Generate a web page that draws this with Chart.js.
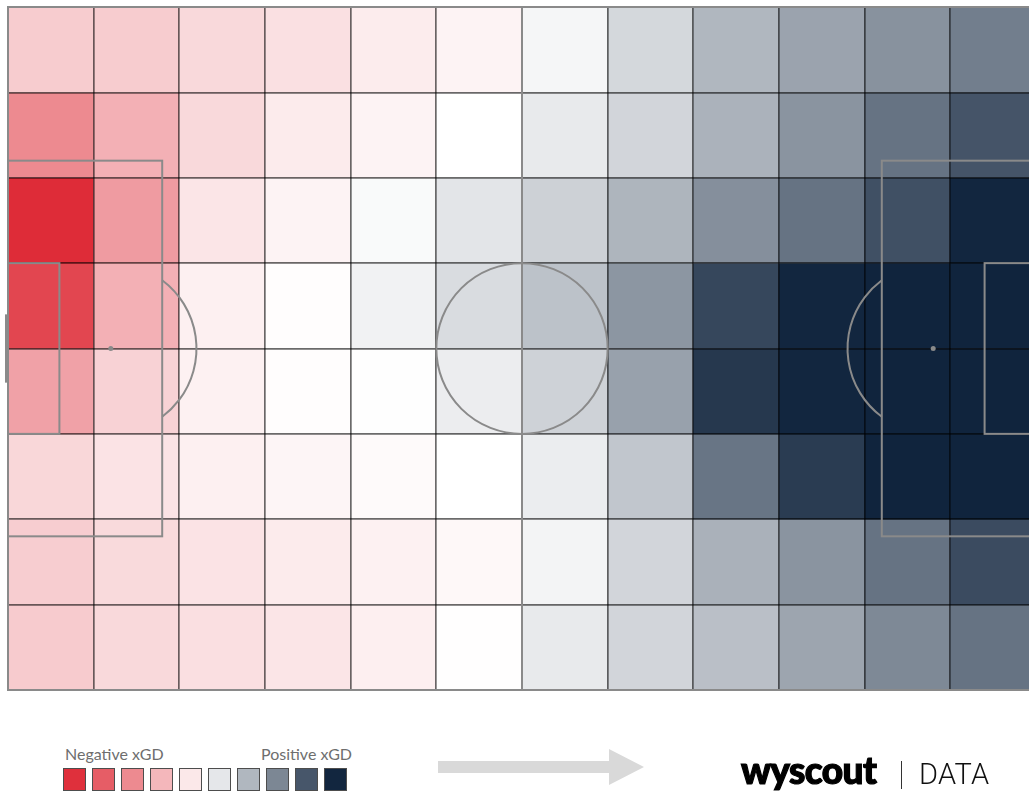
<!DOCTYPE html>
<html>
<head>
<meta charset="utf-8">
<script src="https://cdn.jsdelivr.net/npm/chart.js@4.4.1/dist/chart.umd.min.js"></script>
<style>
  html, body { margin: 0; padding: 0; background: #ffffff; overflow: hidden; }
  #page { position: relative; width: 1029px; height: 792px; overflow: hidden; background: #fff; }
  #chartBox { position: absolute; left: 0; top: 0; width: 1044px; height: 700px; }
  .lbl { position: absolute; font-family: Lato, "Open Sans", sans-serif; font-size: 16px; color: #6e6e6e; line-height: 1; white-space: nowrap; }
  .sw { position: absolute; box-sizing: border-box; width: 23px; height: 23px; border: 1.5px solid #4d4d4d; }
  #brand { position: absolute; left: 741px; top: 751px; font-family: Lato, sans-serif; font-weight: 900; font-size: 37px; letter-spacing: -0.6px; color: #000; -webkit-text-stroke: 1.2px #000; line-height: 1; white-space: nowrap; }
  #sep { position: absolute; left: 901px; top: 761px; width: 1.2px; height: 28px; background: #333; }
  #data { position: absolute; left: 919px; top: 760px; font-family: Roboto, sans-serif; font-weight: 300; font-size: 29px; letter-spacing: 0.3px; color: #111; line-height: 1; white-space: nowrap; }
  #arrow { position: absolute; left: 0; top: 0; }
</style>
</head>
<body>
<div id="page">
  <div id="chartBox"><canvas id="c"></canvas></div>
  <div class="lbl" id="negLbl" style="left:65px; top:746px;">Negative xGD</div>
  <div class="lbl" id="posLbl" style="right:677px; top:746px;">Positive xGD</div>
  <div id="swatches"></div>
  <svg id="arrow" width="1029" height="792"><polygon points="438,761 609,761 609,749 644,767 609,785 609,773 438,773" fill="#d9d9d9"/></svg>
  <div id="brand">wyscout</div>
  <div id="sep"></div>
  <div id="data">DATA</div>
</div>
<script>
// ---- data ----
const colLabels = ['0-10','10-20','20-30','30-40','40-50','50-60','60-70','70-80','80-90','90-100','100-110','110-120'];
const rowEdges = [0, 10, 20, 30, 40, 50, 60, 70, 80];
const rowLabels = ['0-10','10-20','20-30','30-40','40-50','50-60','60-70','70-80'];
// xGD intensity per zone (negative = red, positive = navy), rows top to bottom
const xgdRow0 = [-0.24, -0.24, -0.18, -0.145, -0.09, -0.056, 0.04, 0.18, 0.33, 0.42, 0.50, 0.59];
const xgdRow1 = [-0.55, -0.37, -0.18, -0.094, -0.056, 0.0, 0.096, 0.19, 0.35, 0.49, 0.64, 0.78];
const xgdRow2 = [-0.99, -0.47, -0.12, -0.056, 0.025, 0.117, 0.21, 0.34, 0.51, 0.64, 0.80, 0.99];
const xgdRow3 = [-0.87, -0.37, -0.07, -0.01, 0.06, 0.16, 0.28, 0.48, 0.84, 0.99, 1.0, 1.0];
const xgdRow4 = [-0.44, -0.21, -0.066, -0.01, 0.005, 0.08, 0.205, 0.43, 0.91, 0.99, 1.0, 1.0];
const xgdRow5 = [-0.19, -0.13, -0.07, -0.047, -0.023, 0.0, 0.084, 0.26, 0.63, 0.89, 1.0, 1.0];
const xgdRow6 = [-0.235, -0.174, -0.13, -0.094, -0.066, -0.033, 0.05, 0.19, 0.355, 0.49, 0.64, 0.82];
const xgdRow7 = [-0.244, -0.18, -0.15, -0.12, -0.075, -0.005, 0.096, 0.19, 0.29, 0.41, 0.54, 0.64];
const xgdRows = [xgdRow0, xgdRow1, xgdRow2, xgdRow3, xgdRow4, xgdRow5, xgdRow6, xgdRow7];
const legendValues = [-0.97, -0.76, -0.55, -0.34, -0.11, 0.11, 0.33, 0.55, 0.77, 0.99];

// ---- colour scale ----
const RED = [222, 42, 54];
const NAVY = [16, 36, 61];
function colorFor(v) {
  const t = Math.max(0, Math.min(1, Math.abs(v)));
  const end = v < 0 ? RED : NAVY;
  const c = end.map(e => Math.round(255 + (e - 255) * t));
  return 'rgb(' + c.join(',') + ')';
}

// legend swatches
const swBox = document.getElementById('swatches');
legendValues.forEach((v, k) => {
  const d = document.createElement('div');
  d.className = 'sw';
  d.style.left = (63 + k * 29) + 'px';
  d.style.top = '768px';
  d.style.background = colorFor(v);
  swBox.appendChild(d);
});

// ---- pitch markings plugin (yards, 120 x 80) ----
const pitchPlugin = {
  id: 'pitch',
  afterDraw(chart) {
    const ctx = chart.ctx;
    const xs = chart.scales.xp, ys = chart.scales.y;
    const X = v => xs.getPixelForValue(v), Y = v => ys.getPixelForValue(v);
    const kx = Math.abs(X(1) - X(0)), ky = Math.abs(Y(1) - Y(0));
    ctx.save();
    ctx.strokeStyle = '#8a8a8a';
    ctx.fillStyle = '#8a8a8a';
    ctx.lineWidth = 2;
    const rect = (x0, y0, x1, y1) => { ctx.strokeRect(X(x0), Y(y0), X(x1) - X(x0), Y(y1) - Y(y0)); };
    rect(0, 0, 120, 80);
    ctx.beginPath(); ctx.moveTo(X(60), Y(0)); ctx.lineTo(X(60), Y(80)); ctx.stroke();
    ctx.beginPath(); ctx.ellipse(X(60), Y(40), 10 * kx, 10 * ky, 0, 0, Math.PI * 2); ctx.stroke();
    rect(0, 18, 18, 62); rect(102, 18, 120, 62);
    rect(0, 30, 6, 50); rect(114, 30, 120, 50);
    [12, 108].forEach(s => { ctx.beginPath(); ctx.arc(X(s), Y(40), 2.5, 0, Math.PI * 2); ctx.fill(); });
    const a = Math.acos(6 / 10);
    ctx.beginPath(); ctx.ellipse(X(12), Y(40), 10 * kx, 10 * ky, 0, -a, a); ctx.stroke();
    ctx.beginPath(); ctx.ellipse(X(108), Y(40), 10 * kx, 10 * ky, 0, Math.PI - a, Math.PI + a); ctx.stroke();
    ctx.lineWidth = 4;
    ctx.beginPath(); ctx.moveTo(X(0) - 1, Y(36)); ctx.lineTo(X(0) - 1, Y(44)); ctx.stroke();
    ctx.beginPath(); ctx.moveTo(X(120) + 1, Y(36)); ctx.lineTo(X(120) + 1, Y(44)); ctx.stroke();
    ctx.restore();
  }
};

const gridStyle = { color: 'rgba(0,0,0,0.58)', lineWidth: 1.7, drawTicks: false, z: 1 };

new Chart(document.getElementById('c'), {
  type: 'bar',
  data: {
    labels: colLabels,
    datasets: xgdRows.map((vals, i) => ({
      label: rowLabels[i],
      data: colLabels.map(() => [rowEdges[i], rowEdges[i + 1]]),
      backgroundColor: ctx => colorFor(vals[ctx.dataIndex]),
      borderWidth: 0,
      grouped: false,
      barPercentage: 1,
      categoryPercentage: 1
    }))
  },
  options: {
    responsive: true,
    maintainAspectRatio: false,
    animation: false,
    events: [],
    layout: { padding: { left: 8, right: 8, top: 7, bottom: 10 } },
    plugins: { legend: { display: false }, tooltip: { enabled: false } },
    scales: {
      x: { type: 'category', offset: true, grid: Object.assign({}, gridStyle, { offset: true }), ticks: { display: false }, border: { display: false } },
      y: { type: 'linear', min: 0, max: 80, reverse: true, grid: Object.assign({}, gridStyle), ticks: { display: false, stepSize: 10 }, border: { display: false } },
      xp: { type: 'linear', axis: 'x', min: 0, max: 120, offset: false, display: false, grid: { offset: false } }
    }
  },
  plugins: [pitchPlugin]
});
</script>
</body>
</html>
